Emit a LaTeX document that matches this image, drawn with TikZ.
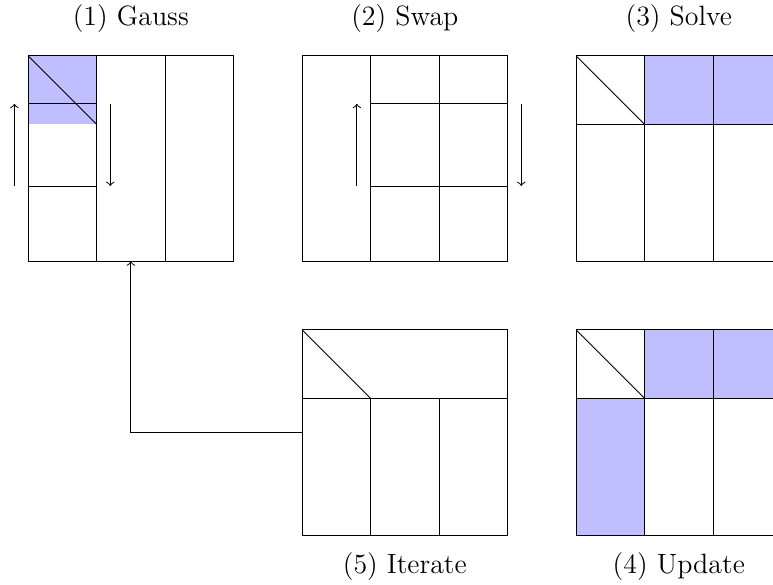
\documentclass[tikz,border=0pt]{standalone}
\usetikzlibrary{positioning}

\tikzset{
    blk/.style={fill=blue!25}, % shaded block
    lbl/.style={font=\fontsize{11.6pt}{14pt}\selectfont},
}

\begin{document}
\begin{tikzpicture}
    \useasboundingbox (-0.41, -0.71) rectangle (10.875, 7.816);
    % lower left corner of each panel
    \coordinate (gauss) at (0, 4);
    \coordinate (swap) at (4, 4);
    \coordinate (solve) at (8, 4);
    \coordinate (update) at (8, 0);
    \coordinate (iter) at (4, 0);

    % (1) factorise the first block column
    \begin{scope}[shift={(gauss)}]
        \fill[blk] (0, 2) rectangle (1, 3);
        \draw (0, 0) rectangle (3, 3);
        \foreach \x in {1, 2} \draw (\x, 0) -- (\x, 3);
        \foreach \y in {1.1, 2.3} \draw (0, \y) -- (1, \y);
        \draw (0, 3) -- (1, 2);
        \draw[->] (-0.2, 1.1) -- (-0.2, 2.3);
        \draw[->] (1.2, 2.3) -- (1.2, 1.1);
        \coordinate (gaussin) at (1.5, 0);
        \node[lbl] (gausslbl) at (1.5, 3.54) {(1) Gauss};
    \end{scope}

    % (2) row interchanges on the other columns
    \begin{scope}[shift={(swap)}]
        \draw (0, 0) rectangle (3, 3);
        \foreach \x in {1, 2} \draw (\x, 0) -- (\x, 3);
        \foreach \y in {1.1, 2.3} \draw (1, \y) -- (3, \y);
        \draw[->] (0.8, 1.1) -- (0.8, 2.3);
        \draw[->] (3.2, 2.3) -- (3.2, 1.1);
        \node[lbl] (swaplbl) at (1.5, 3.54) {(2) Swap};
    \end{scope}

    % (3) triangular solve for the block row
    \begin{scope}[shift={(solve)}]
        \fill[blk] (1, 2) rectangle (3, 3);
        \draw (0, 0) rectangle (3, 3);
        \foreach \x in {1, 2} \draw (\x, 0) -- (\x, 3);
        \draw (0, 2) -- (3, 2);
        \draw (0, 3) -- (1, 2);
        \node[lbl] (solvelbl) at (1.5, 3.54) {(3) Solve};
    \end{scope}

    % (4) trailing update
    \begin{scope}[shift={(update)}]
        \fill[blk] (1, 2) rectangle (3, 3);
        \fill[blk] (0, 0) rectangle (1, 2);
        \draw (0, 0) rectangle (3, 3);
        \foreach \x in {1, 2} \draw (\x, 0) -- (\x, 3);
        \draw (0, 2) -- (3, 2);
        \draw (0, 3) -- (1, 2);
        \node[lbl] (updatelbl) at (1.5, -0.45) {(4) Update};
    \end{scope}

    % (5) go on with the remaining matrix
    \begin{scope}[shift={(iter)}]
        \draw (0, 0) rectangle (3, 3);
        \draw (0, 2) -- (3, 2);
        \foreach \x in {1, 2} \draw (\x, 0) -- (\x, 2);
        \draw (0, 3) -- (1, 2);
        \coordinate (iterout) at (0, 1.5);
        \node[lbl] (iterlbl) at (1.5, -0.45) {(5) Iterate};
    \end{scope}

    \draw[->] (iterout) -| (gaussin);
\end{tikzpicture}
\end{document}
